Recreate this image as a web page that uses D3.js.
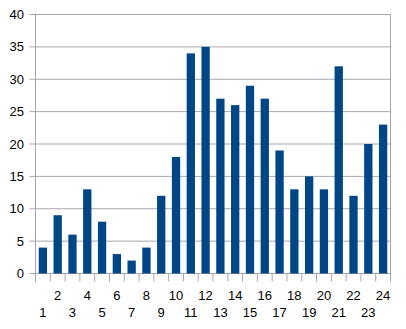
<html>
<head>
<script src="https://d3js.org/d3.v7.min.js"></script>
<style>
body { margin: 0; background: #fff; }
text { font-family: "Liberation Sans", Arial, sans-serif; font-size: 13px; fill: #000; }
</style>
</head>
<body>
<svg width="406" height="329"></svg>
<script>
// chart data
var categories = ["1","2","3","4","5","6","7","8","9","10","11","12","13","14","15","16","17","18","19","20","21","22","23","24"];
var values = [4, 9, 6, 13, 8, 3, 2, 4, 12, 18, 34, 35, 27, 26, 29, 27, 19, 13, 15, 13, 32, 12, 20, 23];
var yTicks = [0, 5, 10, 15, 20, 25, 30, 35, 40];

var plotLeft = 35.5, plotRight = 390.5, plotTop = 14.5, plotBottom = 273.5;
var gridColor = "#aaa4b0";

var svg = d3.select("svg");

var x = d3.scaleBand().domain(categories).range([plotLeft, plotRight]).paddingInner(0.44).paddingOuter(0.22);
var y = d3.scaleLinear().domain([0, 40]).range([plotBottom, plotTop]);

// gridlines
svg.append("g").selectAll("line")
  .data(yTicks)
  .enter().append("line")
  .attr("x1", plotLeft - 6).attr("x2", plotRight)
  .attr("y1", function(d){ return y(d); })
  .attr("y2", function(d){ return y(d); })
  .attr("stroke", gridColor).attr("stroke-width", 1);

// frame sides
svg.append("line").attr("x1", plotLeft).attr("x2", plotLeft).attr("y1", plotTop).attr("y2", plotBottom + 8)
  .attr("stroke", gridColor);
svg.append("line").attr("x1", plotRight).attr("x2", plotRight).attr("y1", plotTop).attr("y2", plotBottom + 8)
  .attr("stroke", gridColor);

// x ticks at band boundaries
var bounds = d3.range(categories.length + 1).map(function(i){ return plotLeft + i * (plotRight - plotLeft) / categories.length; });
svg.append("g").selectAll("line")
  .data(bounds)
  .enter().append("line")
  .attr("x1", function(d){ return d; }).attr("x2", function(d){ return d; })
  .attr("y1", plotBottom).attr("y2", plotBottom + 8)
  .attr("stroke", gridColor);

// y labels
svg.append("g").selectAll("text")
  .data(yTicks)
  .enter().append("text")
  .attr("x", 24)
  .attr("y", function(d){ return y(d) + 4.5; })
  .attr("text-anchor", "end")
  .text(function(d){ return d; });

// bars
svg.append("g").selectAll("rect")
  .data(values)
  .enter().append("rect")
  .attr("x", function(d, i){ return x(categories[i]); })
  .attr("width", x.bandwidth())
  .attr("y", function(d){ return y(d); })
  .attr("height", function(d){ return plotBottom - y(d); })
  .attr("fill", "#004586");

// x labels, staggered
svg.append("g").selectAll("text")
  .data(categories)
  .enter().append("text")
  .attr("x", function(d){ return x(d) + x.bandwidth() / 2; })
  .attr("y", function(d, i){ return i % 2 == 1 ? 299.5 : 316.5; })
  .attr("text-anchor", "middle")
  .text(function(d){ return d; });
</script>
</body>
</html>
